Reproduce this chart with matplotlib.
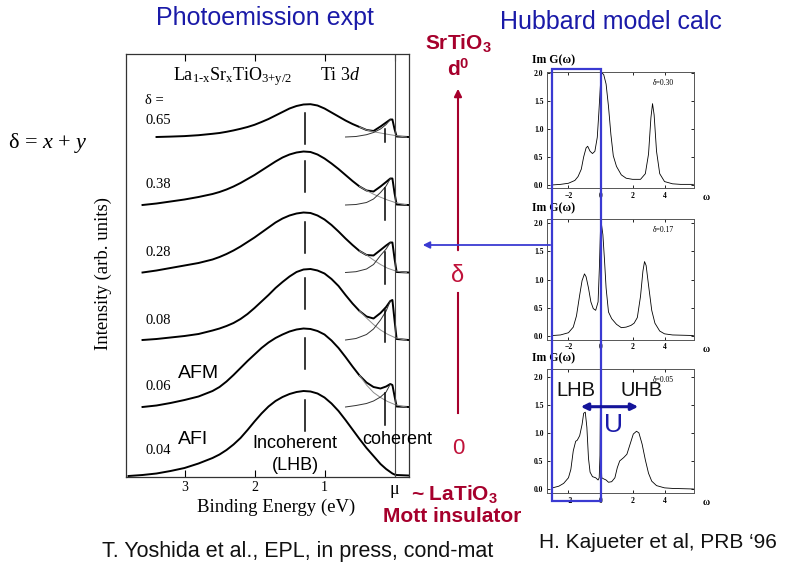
import numpy as np
import matplotlib.pyplot as plt
from matplotlib.patches import Rectangle, FancyArrowPatch
from matplotlib.lines import Line2D

plt.rcParams['font.family'] = 'Liberation Sans'
plt.rcParams['mathtext.fontset'] = 'custom'
plt.rcParams['mathtext.rm'] = 'Liberation Serif'
plt.rcParams['mathtext.it'] = 'Liberation Serif:italic'
plt.rcParams['mathtext.bf'] = 'Liberation Sans:bold'

nan = np.nan

# --- photoemission spectra, La1-xSrxTiO3+y/2, Ti 3d (binding energy in eV) ---
energy = [3.8, 3.6, 3.4, 3.2, 3.0, 2.8, 2.6,
          2.5, 2.4, 2.3, 2.2, 2.1, 2.0, 1.9, 1.8, 1.7, 1.6, 1.5, 1.4, 1.3, 1.2,
          1.1, 1.0, 0.9, 0.8, 0.7, 0.6, 0.5, 0.4, 0.3,
          0.2, 0.12, 0.06, 0.03, 0.0, -0.03, -0.2]

pes_065 = [nan, nan, 0.0, 0.4, 0.9, 1.8, 3.2,
           4.0, 5.2, 6.6, 8.2, 10.0, 12.2, 15.0, 18.0, 21.5, 25.0, 28.5, 31.0, 32.5, 32.8,
           31.5, 28.5, 24.5, 20.5, 16.5, 13.0, 10.0, 7.0, 6.0,
           10.5, 14.5, 17.5, 17.5, 8.0, 0.5, 0.0]
pes_038 = [nan, 0.0, 1.5, 3.5, 5.5, 8.0, 11.0,
           13.0, 15.5, 18.5, 22.0, 26.0, 30.0, 34.5, 39.0, 43.5, 47.5, 50.5, 52.5, 53.5, 53.0,
           50.5, 46.5, 41.5, 36.0, 30.0, 24.0, 18.5, 14.5, 13.5,
           18.5, 23.0, 26.5, 26.5, 12.0, 0.5, 0.0]
pes_028 = [nan, 0.0, 2.0, 4.5, 7.0, 9.5, 13.0,
           15.5, 18.5, 22.0, 26.0, 30.5, 35.0, 40.0, 45.0, 50.0, 54.0, 57.0, 59.0, 60.0, 59.5,
           57.0, 53.0, 47.5, 41.0, 34.0, 27.5, 21.5, 17.5, 17.0,
           22.5, 27.0, 30.0, 30.0, 14.0, 0.5, 0.0]
pes_008 = [nan, 0.0, 1.0, 2.5, 4.0, 6.0, 9.5,
           11.5, 14.0, 17.0, 21.0, 26.0, 32.0, 38.5, 45.0, 52.0, 58.0, 63.5, 68.0, 70.5, 71.0,
           69.5, 66.5, 61.0, 54.0, 45.0, 36.5, 29.0, 23.5, 21.5,
           27.0, 33.0, 39.0, 40.0, 20.0, 1.0, 0.0]
pes_006 = [nan, 0.0, 1.5, 4.0, 7.0, 10.5, 16.0,
           20.0, 25.5, 32.0, 39.0, 46.0, 52.5, 59.0, 64.5, 69.0, 72.5, 75.5, 77.5, 78.5, 78.0,
           76.0, 72.5, 66.5, 59.0, 50.0, 40.5, 31.5, 24.5, 20.0,
           18.5, 20.5, 23.0, 22.0, 11.0, 0.5, 0.0]
pes_004 = [0.0, 1.0, 2.5, 5.0, 8.0, 12.5, 18.0,
           21.5, 26.0, 31.5, 38.0, 46.0, 54.5, 62.5, 69.5, 75.0, 79.0, 82.0, 84.0, 85.0, 84.5,
           82.5, 78.5, 72.5, 65.0, 56.0, 46.5, 37.0, 28.0, 20.0,
           12.0, 7.0, 4.0, 2.5, 1.5, 1.0, 0.5]

doping = ['0.65', '0.38', '0.28', '0.08', '0.06', '0.04']
offsets = [340, 272, 204.5, 137, 70, 1]

# incoherent tail and coherent component of the fits
tail_energy = [0.5, 0.4, 0.3, 0.2, 0.1, 0.0, -0.1, -0.17]
tail_065 = [10.0, 7.0, 5.3, 4.0, 2.7, 1.6, 0.6, 0.0]
tail_038 = [18.5, 14.5, 10.8, 7.8, 5.0, 2.7, 1.0, 0.2]
tail_028 = [21.5, 17.5, 12.5, 8.0, 4.3, 1.9, 0.5, 0.0]
tail_008 = [29.0, 22.0, 15.5, 10.0, 5.8, 2.6, 0.8, 0.0]
tail_006 = [31.5, 22.0, 14.5, 9.5, 5.5, 2.6, 0.8, 0.0]

coh_energy = [0.7, 0.55, 0.4, 0.3, 0.2, 0.12, 0.06]
coh_065 = [0.0, 0.5, 2.3, 4.5, 8.0, 12.5, 17.5]
coh_038 = [0.0, 0.5, 2.5, 6.0, 12.5, 19.0, 26.5]
coh_028 = [0.0, 0.8, 3.5, 8.0, 17.0, 23.5, 30.0]
coh_008 = [0.0, 1.5, 5.5, 11.0, 20.0, 29.0, 39.0]
coh_006 = [0.0, 1.5, 3.5, 6.0, 10.0, 15.0, 23.0]

e_incoherent = 1.28
e_coherent = 0.135

# --- Hubbard model, Im G(omega) ---
omega_030 = [-3.0, -2.5, -2.0, -1.6, -1.4, -1.2, -1.05, -0.9, -0.8, -0.65,
             -0.5, -0.35, -0.2, -0.1, 0.0, 0.08, 0.2, 0.35, 0.5, 0.65,
             0.8, 1.0, 1.3, 1.6, 2.0, 2.5, 2.8, 3.0, 3.15, 3.25,
             3.35, 3.5, 3.7, 4.0, 4.5, 5.0, 5.8]
dos_030 = [0.0, 0.01, 0.03, 0.08, 0.15, 0.28, 0.5, 0.66, 0.69, 0.6,
           0.56, 0.6, 0.85, 1.3, 1.8, 2.0, 1.97, 1.8, 1.4, 0.9,
           0.52, 0.33, 0.18, 0.12, 0.1, 0.1, 0.2, 0.55, 1.2, 1.45,
           1.25, 0.6, 0.2, 0.06, 0.02, 0.01, 0.01]

omega_017 = [-3.0, -2.5, -2.0, -1.7, -1.5, -1.3, -1.15, -1.0, -0.9, -0.75,
             -0.6, -0.45, -0.3, -0.15, -0.07, 0.0, 0.07, 0.15, 0.25, 0.35,
             0.5, 0.7, 1.0, 1.3, 1.6, 1.9, 2.1, 2.3, 2.5, 2.65,
             2.75, 2.85, 3.0, 3.2, 3.4, 3.7, 4.0, 4.5, 5.8]
dos_017 = [0.0, 0.01, 0.05, 0.15, 0.35, 0.72, 0.98, 1.1, 1.05, 0.85,
           0.6, 0.48, 0.45, 0.6, 1.2, 1.9, 1.97, 1.8, 1.35, 0.85,
           0.42, 0.3, 0.2, 0.14, 0.15, 0.18, 0.22, 0.32, 0.7, 1.15,
           1.32, 1.25, 0.9, 0.45, 0.22, 0.08, 0.03, 0.01, 0.0]

omega_005 = [-3.0, -2.6, -2.3, -2.0, -1.85, -1.7, -1.55, -1.45, -1.3, -1.15,
             -1.05, -0.95, -0.85, -0.75, -0.65, -0.5, -0.3, -0.15, -0.08, -0.03,
             0.0, 0.03, 0.08, 0.2, 0.35, 0.5, 0.7, 0.9, 1.05, 1.2,
             1.45, 1.65, 1.85, 2.05, 2.25, 2.4, 2.6, 2.8, 3.0, 3.2,
             3.5, 4.0, 4.5, 5.8]
dos_005 = [0.02, 0.05, 0.1, 0.2, 0.35, 0.68, 0.85, 0.87, 0.95, 1.15,
           1.35, 1.37, 1.1, 0.55, 0.3, 0.22, 0.2, 0.16, 0.2, 0.6,
           1.65, 0.6, 0.2, 0.18, 0.16, 0.12, 0.13, 0.2, 0.38, 0.5,
           0.56, 0.62, 0.8, 0.98, 1.03, 1.0, 0.8, 0.52, 0.28, 0.14,
           0.06, 0.02, 0.01, 0.0]

hubbard_delta = ['0.30', '0.17', '0.05']

W, H = 786, 566
SERIF = 'Liberation Serif'
BLUE = '#1a1aa8'
LINE_BLUE = '#3a3ad2'
RED = '#a6002c'

fig = plt.figure(figsize=(W / 100, H / 100), dpi=100)


def put(x, y, s, **kw):
    return fig.text(x / W, 1 - y / H, s, **kw)


def rect(x0, y0, x1, y1):
    return [x0 / W, 1 - y1 / H, (x1 - x0) / W, (y1 - y0) / H]


# ---------------- photoemission panel ----------------
ax = fig.add_axes(rect(126, 54, 409, 477))
totals = [pes_065, pes_038, pes_028, pes_008, pes_006, pes_004]
tails = [tail_065, tail_038, tail_028, tail_008, tail_006]
cohs = [coh_065, coh_038, coh_028, coh_008, coh_006]

for vals, off in zip(totals, offsets):
    v = np.array(vals)
    ax.plot(energy, off + v, color='black', lw=1.4, solid_joinstyle='round')
    peak = np.nanmax(v)
    ax.plot([e_incoherent] * 2, [off + peak - 9, off + peak - 40], color='black', lw=1.1)

for i, (t, c) in enumerate(zip(tails, cohs)):
    off = offsets[i]
    ax.plot(tail_energy, off + np.array(t), color='#8c8c8c', lw=0.7)
    ax.plot(coh_energy, off + np.array(c), color='#333333', lw=0.7)
    top = off + c[-1] - 9
    length = 13 if i == 0 else 32
    ax.plot([e_coherent] * 2, [top, top - length], color='black', lw=1.1)

ax.axvline(0, color='#444444', lw=0.8)
ax.set_xlim(3.836, -0.207)
ax.set_ylim(0, 423)
ax.set_yticks([])
ax.set_xticks([3, 2, 1, 0])
ax.set_xticklabels(['3', '2', '1', 'μ'], fontfamily=SERIF, fontsize=10)
ax.get_xticklabels()[3].set_fontsize(13)
ax.tick_params(axis='x', direction='in', top=True, length=5, width=0.8, pad=3)
for sp in ax.spines.values():
    sp.set_linewidth(0.9)
    sp.set_color('#333333')

put(173, 80, r'La$_{\text{1-x}}$Sr$_{\text{x}}$TiO$_{\text{3+y/2}}$',
    family=SERIF, fontsize=13, va='baseline')
put(320, 80, r'Ti 3$d$', family=SERIF, fontsize=13, va='baseline')
put(145, 100, 'δ =', family=SERIF, fontsize=10.5, va='center')
label_y = [120, 185, 252, 321, 386, 450]
for lab, yy in zip(doping, label_y):
    put(145, yy, lab, family=SERIF, fontsize=10.5, va='center')
put(178, 373, 'AFM', fontsize=14, va='center')
put(178, 440, 'AFI', fontsize=14, va='center')
put(295, 443, 'Incoherent', fontsize=13, va='center', ha='center')
put(295, 465, '(LHB)', fontsize=13, va='center', ha='center')
put(362, 440, 'coherent', fontsize=13, va='center')
put(276, 507, 'Binding Energy (eV)', family=SERIF, fontsize=13.5, va='center', ha='center')
put(103, 274, 'Intensity (arb. units)', family=SERIF, fontsize=13.5,
    rotation=90, va='center', ha='center')
put(8, 143, r'δ = $x$ + $y$', family=SERIF, fontsize=16, va='center')

put(265, 18, 'Photoemission expt', color=BLUE, fontsize=18, va='center', ha='center')
put(611, 22, 'Hubbard model calc', color=BLUE, fontsize=18, va='center', ha='center')

# ---------------- Hubbard model panels ----------------
hub_curves = [(omega_030, dos_030), (omega_017, dos_017), (omega_005, dos_005)]
hub_boxes = [(547, 71.7, 694, 188.3), (547, 219, 694, 340), (547, 369, 694, 493.3)]
hub_ylims = [(-0.06, 2.02), (-0.08, 2.08), (-0.077, 2.14)]
for (om, dos), bx, yl, dl in zip(hub_curves, hub_boxes, hub_ylims, hubbard_delta):
    a = fig.add_axes(rect(*bx))
    a.plot(om, dos, color='black', lw=0.6)
    a.set_xlim(-3.34, 5.84)
    a.set_ylim(*yl)
    a.set_xticks([-2, 0, 2, 4])
    a.set_yticks([0, 0.5, 1.0, 1.5, 2.0])
    a.set_yticklabels(['0.0', '0.5', '1.0', '1.5', '2.0'])
    a.tick_params(direction='in', length=2.5, width=0.6, top=True, right=True,
                  labelsize=5.5, pad=2.5)
    for lab in a.get_xticklabels() + a.get_yticklabels():
        lab.set_fontfamily(SERIF)
        lab.set_fontweight('bold')
    for sp in a.spines.values():
        sp.set_linewidth(0.7)
        sp.set_color('#555555')
    put(703, bx[3] + 9, 'ω', family=SERIF, fontweight='bold', fontsize=7, va='center')
    put(532, bx[1] - 11, 'Im G(ω)', family=SERIF, fontweight='bold', fontsize=8.5,
        va='center')
    put(653, bx[1] + 11, 'δ=' + dl, family=SERIF, fontsize=5.5, va='center')

put(556, 390, 'LHB', fontsize=14.5, va='center', color='#111111')
put(621, 390, 'UHB', fontsize=14.5, va='center', color='#111111')
put(613, 425, 'U', fontsize=19, va='center', ha='center', color=BLUE)
fig.add_artist(FancyArrowPatch((578 / W, 1 - 406.7 / H), (641 / W, 1 - 406.7 / H),
                               transform=fig.transFigure, arrowstyle='<|-|>',
                               mutation_scale=10, lw=2.2, color='#14149a', zorder=6))

# highlight box over the lower Hubbard band
fig.add_artist(Rectangle((552.3 / W, 1 - 500.7 / H), (600.5 - 552.3) / W,
                         (500.7 - 69) / H, transform=fig.transFigure,
                         fill=False, ec=LINE_BLUE, lw=1.6, zorder=5))
fig.add_artist(FancyArrowPatch((553 / W, 1 - 245 / H), (420 / W, 1 - 245 / H),
                               transform=fig.transFigure, arrowstyle='-|>',
                               mutation_scale=10, lw=1.3, color=LINE_BLUE, zorder=5))

# ---------------- doping axis ----------------
put(458, 43, r'SrTiO$_\mathbf{3}$', color=RED, fontsize=15, fontweight='bold',
    va='center', ha='center')
put(458, 69, r'd$^\mathbf{0}$', color=RED, fontsize=15, fontweight='bold',
    va='center', ha='center')
fig.add_artist(FancyArrowPatch((458 / W, 1 - 253 / H), (458 / W, 1 - 86 / H),
                               transform=fig.transFigure, arrowstyle='-|>',
                               mutation_scale=11, lw=1.5, color=RED))
fig.add_artist(Line2D([458 / W, 458 / W], [1 - 293 / H, 1 - 413 / H],
                      color=RED, lw=1.5))
put(458, 276, 'δ', color='#c0123a', fontsize=17, va='center', ha='center')
put(458, 449, '0', color='#c0123a', fontsize=16, va='center', ha='center')
put(454, 494, r'~ LaTiO$_\mathbf{3}$', color=RED, fontsize=15, fontweight='bold',
    va='center', ha='center')
put(452, 517, 'Mott insulator', color=RED, fontsize=15, fontweight='bold',
    va='center', ha='center')

put(298, 551, 'T. Yoshida et al., EPL, in press, cond-mat', fontsize=15.5,
    va='center', ha='center', color='#111111')
put(658, 543, 'H. Kajueter et al, PRB ‘96', fontsize=15, va='center', ha='center',
    color='#111111')

fig.savefig('out.png', dpi=100)
